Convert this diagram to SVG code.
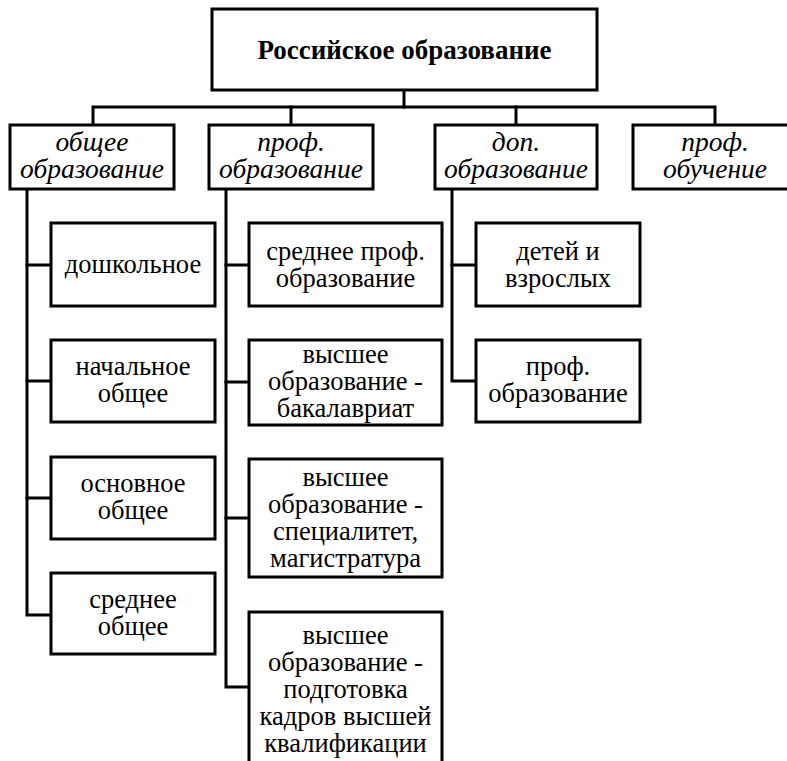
<svg xmlns="http://www.w3.org/2000/svg" width="787" height="761" viewBox="0 0 787 761" font-family="'Liberation Serif', Tinos, 'Times New Roman', 'DejaVu Serif', serif">
<style>
.box{fill:#fff;stroke:#000;stroke-width:3}
.ln{fill:none;stroke:#000;stroke-width:3;stroke-linejoin:miter;stroke-linecap:square}
text{font-family:'Liberation Serif', Tinos, 'Times New Roman', 'DejaVu Serif', serif;font-size:26.5px;fill:#000;text-anchor:middle}
.it{font-style:italic;font-size:27.5px}
.b{font-weight:bold;font-size:27px}
</style>
<rect width="787" height="761" fill="#fff"/>
<g id="connectors">
<polyline class="ln" points="404,90 404,107"/>
<polyline class="ln" points="93,125 93,107 715,107 715,125"/>
<polyline class="ln" points="291,107 291,125"/>
<polyline class="ln" points="516,107 516,125"/>
<polyline class="ln" points="27,189 27,615 51,615"/>
<line class="ln" x1="27" y1="265" x2="51" y2="265"/>
<line class="ln" x1="27" y1="381" x2="51" y2="381"/>
<line class="ln" x1="27" y1="498" x2="51" y2="498"/>
<polyline class="ln" points="226,189 226,687 249,687"/>
<line class="ln" x1="226" y1="265" x2="249" y2="265"/>
<line class="ln" x1="226" y1="382" x2="249" y2="382"/>
<line class="ln" x1="226" y1="518" x2="249" y2="518"/>
<polyline class="ln" points="452,189 452,381 476,381"/>
<line class="ln" x1="452" y1="265" x2="476" y2="265"/>
</g>
<g id="root"><rect class="box" x="212" y="9" width="385" height="81"/><text class="b" x="404.5" y="59">Российское образование</text></g>
<g id="general"><rect class="box" x="10" y="125" width="164" height="64"/><text class="it" x="92" y="151">общее</text><text class="it" x="92" y="178">образование</text></g>
<g id="prof"><rect class="box" x="209" y="125" width="164" height="64"/><text class="it" x="291" y="151">проф.</text><text class="it" x="291" y="178">образование</text></g>
<g id="dop"><rect class="box" x="435" y="125" width="162" height="64"/><text class="it" x="516" y="151">доп.</text><text class="it" x="516" y="178">образование</text></g>
<g id="profobuch"><rect class="box" x="633" y="125" width="164" height="64"/><text class="it" x="715" y="151">проф.</text><text class="it" x="715" y="178">обучение</text></g>
<g id="preschool"><rect class="box" x="51" y="223" width="164" height="83"/><text x="133" y="273">дошкольное</text></g>
<g id="primary"><rect class="box" x="51" y="340" width="164" height="82"/><text x="133" y="375">начальное</text><text x="133" y="402">общее</text></g>
<g id="basic"><rect class="box" x="51" y="457" width="164" height="82"/><text x="133" y="492">основное</text><text x="133" y="519">общее</text></g>
<g id="secondary"><rect class="box" x="51" y="573" width="164" height="81"/><text x="133" y="608">среднее</text><text x="133" y="635">общее</text></g>
<g id="spo"><rect class="box" x="249" y="223" width="193" height="83"/><text x="345.5" y="260">среднее проф.</text><text x="345.5" y="287">образование</text></g>
<g id="bachelor"><rect class="box" x="249" y="340" width="193" height="85"/><text x="345.5" y="363">высшее</text><text x="345.5" y="390">образование -</text><text x="345.5" y="417">бакалавриат</text></g>
<g id="master"><rect class="box" x="249" y="459" width="193" height="118"/><text x="345.5" y="486">высшее</text><text x="345.5" y="513">образование -</text><text x="345.5" y="540">специалитет,</text><text x="345.5" y="567">магистратура</text></g>
<g id="phd"><rect class="box" x="249" y="612" width="193" height="163"/><text x="345.5" y="644">высшее</text><text x="345.5" y="671">образование -</text><text x="345.5" y="698">подготовка</text><text x="345.5" y="725">кадров высшей</text><text x="345.5" y="752">квалификации</text></g>
<g id="children"><rect class="box" x="476" y="223" width="164" height="83"/><text x="558" y="260">детей и</text><text x="558" y="287">взрослых</text></g>
<g id="dopprof"><rect class="box" x="476" y="340" width="164" height="82"/><text x="558" y="375">проф.</text><text x="558" y="402">образование</text></g>
</svg>
